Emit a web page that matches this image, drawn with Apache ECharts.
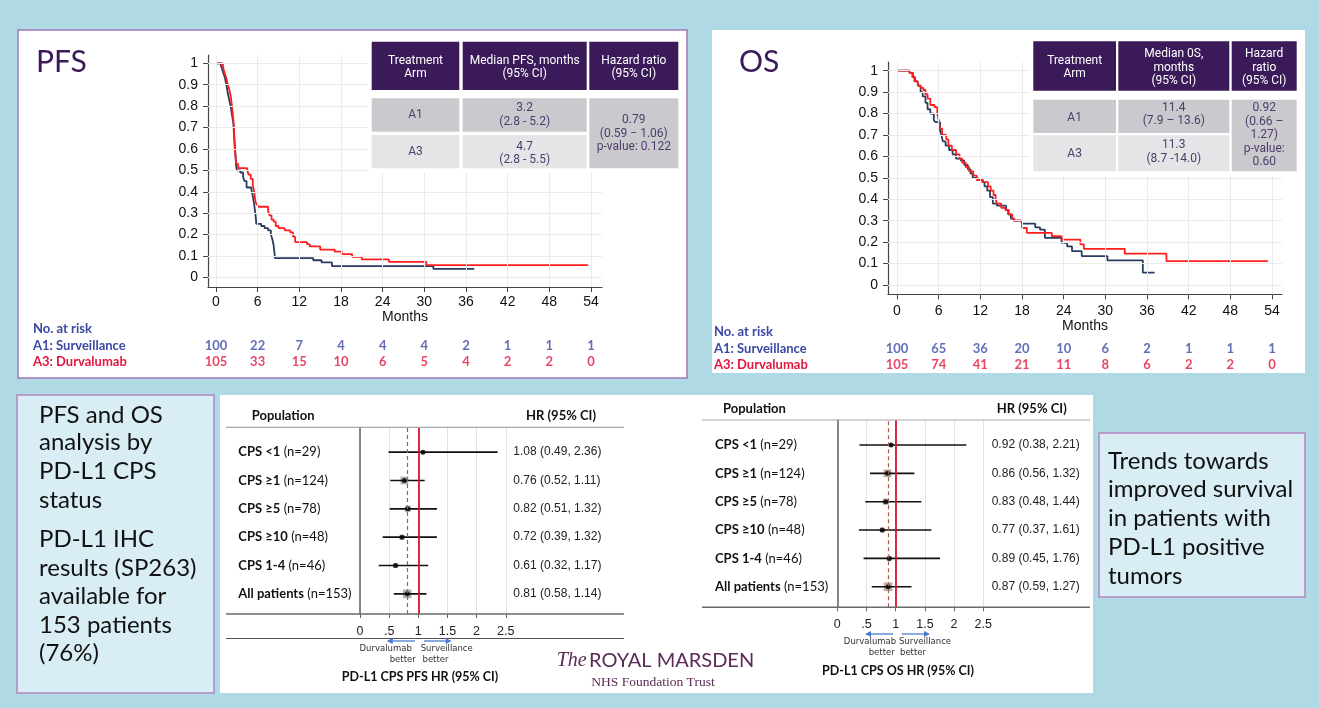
<!DOCTYPE html>
<html>
<head>
<meta charset="utf-8">
<script src="https://cdn.jsdelivr.net/npm/echarts@6/dist/echarts.min.js"></script>
<style>
  html, body { margin: 0; padding: 0; background: #b0d9e6; }
  #chart { width: 1319px; height: 708px; }
</style>
</head>
<body>
<div id="chart"></div>
<script>
// ---------- Kaplan–Meier curves (month, survival probability) ----------
const monthTicks = [0, 6, 12, 18, 24, 30, 36, 42, 48, 54];
const survTicks = [0, 0.1, 0.2, 0.3, 0.4, 0.5, 0.6, 0.7, 0.8, 0.9, 1];

const pfsSurveillance = [[0,1],[0.7,0.99],[0.9,0.97],[1.1,0.95],[1.3,0.93],[1.5,0.9],[1.7,0.86],[1.9,0.83],[2.1,0.8],[2.3,0.76],[2.5,0.72],[2.6,0.66],[2.8,0.58],[2.9,0.52],[3.0,0.5],[3.5,0.49],[3.9,0.47],[4.1,0.45],[4.4,0.42],[5.1,0.41],[5.3,0.38],[5.5,0.34],[5.7,0.29],[5.8,0.25],[6.5,0.24],[7.0,0.23],[7.5,0.22],[7.9,0.2],[8.1,0.18],[8.3,0.15],[8.4,0.12],[8.5,0.09],[14.0,0.08],[15.2,0.07],[16.7,0.053],[31.3,0.04],[37.2,0.04]];
const pfsDurvalumab = [[0,1],[1.0,0.99],[1.1,0.97],[1.3,0.95],[1.5,0.93],[1.7,0.9],[1.9,0.88],[2.1,0.85],[2.3,0.8],[2.4,0.77],[2.6,0.7],[2.7,0.6],[2.9,0.53],[3.2,0.51],[4.5,0.5],[4.7,0.48],[5.0,0.46],[5.3,0.43],[5.5,0.4],[5.7,0.35],[5.9,0.34],[6.1,0.33],[7.5,0.31],[7.7,0.29],[8.0,0.27],[8.3,0.26],[8.6,0.24],[9.0,0.23],[9.9,0.22],[10.7,0.21],[11.1,0.19],[11.4,0.165],[13.1,0.155],[13.5,0.145],[15.0,0.13],[17.1,0.12],[18.1,0.109],[19.6,0.096],[21.0,0.084],[24.9,0.072],[30.3,0.057],[53.6,0.057]];
const osSurveillance = [[0,1],[1.8,0.99],[2.3,0.97],[2.6,0.95],[3.0,0.93],[3.4,0.9],[3.7,0.88],[4.1,0.85],[4.4,0.82],[4.8,0.8],[5.3,0.77],[5.5,0.76],[6.2,0.72],[6.4,0.7],[6.6,0.67],[7.0,0.65],[7.5,0.63],[8.0,0.61],[8.5,0.59],[9.2,0.58],[9.7,0.56],[10.2,0.54],[10.6,0.52],[10.9,0.5],[11.6,0.49],[12.3,0.48],[12.6,0.46],[13.0,0.44],[13.4,0.41],[13.8,0.38],[14.4,0.37],[15.7,0.35],[16.0,0.33],[16.4,0.31],[16.8,0.3],[18.0,0.286],[19.9,0.269],[20.6,0.258],[21.3,0.22],[23.7,0.197],[24.5,0.18],[25.2,0.158],[26.6,0.135],[30.3,0.115],[35.4,0.058],[37.1,0.058]];
const osDurvalumab = [[0,1],[1.8,0.99],[2.2,0.97],[2.5,0.95],[3.0,0.93],[3.4,0.92],[3.8,0.91],[4.1,0.89],[4.4,0.87],[4.8,0.84],[5.4,0.83],[5.8,0.8],[6.0,0.77],[6.2,0.73],[6.5,0.7],[7.1,0.68],[7.4,0.65],[7.9,0.63],[8.5,0.61],[9.0,0.59],[9.4,0.57],[9.9,0.55],[10.4,0.53],[11.0,0.51],[11.5,0.49],[12.4,0.48],[13.1,0.46],[13.5,0.44],[13.9,0.42],[14.2,0.4],[14.4,0.38],[15.0,0.36],[15.6,0.35],[16.1,0.33],[16.6,0.31],[16.9,0.3],[18.0,0.266],[18.7,0.243],[22.3,0.228],[23.7,0.212],[26.4,0.19],[26.9,0.169],[32.8,0.146],[38.8,0.111],[53.4,0.111]];

// ---------- Numbers at risk ----------
const riskRows = ['No. at risk', 'A1: Surveillance', 'A3: Durvalumab'];
const pfsRiskSurveillance = [100, 22, 7, 4, 4, 4, 2, 1, 1, 1];
const pfsRiskDurvalumab = [105, 33, 15, 10, 6, 5, 4, 2, 2, 0];
const osRiskSurveillance = [100, 65, 36, 20, 10, 6, 2, 1, 1, 1];
const osRiskDurvalumab = [105, 74, 41, 21, 11, 8, 6, 2, 2, 0];

// ---------- Summary tables ----------
const pfsTableHead = [['Treatment', 'Arm'], ['Median PFS, months', '(95% CI)'], ['Hazard ratio', '(95% CI)']];
const pfsArms = ['A1', 'A3'];
const pfsMedian = [['3.2', '(2.8 - 5.2)'], ['4.7', '(2.8 - 5.5)']];
const pfsHazard = ['0.79', '(0.59 \u2212 1.06)', 'p-value: 0.122'];
const osTableHead = [['Treatment', 'Arm'], ['Median 0S,', 'months', '(95% CI)'], ['Hazard', 'ratio', '(95% CI)']];
const osArms = ['A1', 'A3'];
const osMedian = [['11.4', '(7.9 \u2013 13.6)'], ['11.3', '(8.7 -14.0)']];
const osHazard = ['0.92', '(0.66 \u2013', '1.27)', 'p-value:', '0.60'];

// ---------- Forest plots by PD-L1 CPS ----------
const cpsGroups = ['CPS <1', 'CPS \u22651', 'CPS \u22655', 'CPS \u226510', 'CPS 1-4', 'All patients'];
const cpsN = [29, 124, 78, 48, 46, 153];
const pfsHR = [1.08, 0.76, 0.82, 0.72, 0.61, 0.81];
const pfsLo = [0.49, 0.52, 0.51, 0.39, 0.32, 0.58];
const pfsHi = [2.36, 1.11, 1.32, 1.32, 1.17, 1.14];
const osHR = [0.92, 0.86, 0.83, 0.77, 0.89, 0.87];
const osLo = [0.38, 0.56, 0.48, 0.37, 0.45, 0.59];
const osHi = [2.21, 1.32, 1.44, 1.61, 1.76, 1.27];

// ---------- Slide text ----------
const leftNotes = ['PFS and OS', 'analysis by', 'PD-L1 CPS', 'status', 'PD-L1 IHC', 'results (SP263)', 'available for', '153 patients', '(76%)'];
const rightNotes = ['Trends towards', 'improved survival', 'in patients with', 'PD-L1 positive', 'tumors'];

// ---------- styling helpers ----------
const F_UI = 'Lato, "Open Sans", sans-serif';
const F_AX = '"Liberation Sans", Arial, sans-serif';
const F_TB = 'Roboto, "Liberation Sans", sans-serif';
const BLUE_LINE = '#2b3c62', RED_LINE = '#ff1e1e';
const RISK_BLUE = '#3a49a3', RISK_RED = '#e2163f';
const PURPLE = '#3b1a59';

function rect(x, y, w, h, fill, stroke, lw, z) {
  return { type: 'rect', z: z == null ? -100 : z, silent: true, shape: { x, y, width: w, height: h },
           style: { fill, stroke: stroke || null, lineWidth: lw || 0 } };
}
function txt(x, y, s, font, fill, align) {
  return { type: 'text', z: 100, silent: true, x, y,
           style: { text: s, font, fill, align: align || 'center', verticalAlign: 'middle' } };
}
function hline(x1, x2, y, color, w) {
  return { type: 'line', z: 50, silent: true, shape: { x1, y1: y, x2, y2: y }, style: { stroke: color, lineWidth: w } };
}
function arrow(x1, x2, y) {
  const d = Math.sign(x2 - x1);
  return [
    { type: 'line', z: 50, silent: true, shape: { x1, y1: y, x2: x2 - d * 4, y2: y }, style: { stroke: '#4a7bd0', lineWidth: 1.3 } },
    { type: 'polygon', z: 50, silent: true, shape: { points: [[x2, y], [x2 - d * 6, y - 3], [x2 - d * 6, y + 3]] }, style: { fill: '#4a7bd0' } }
  ];
}

// ---------- axes builders ----------
function kmXAxis(gi, min, max, labelMargin, nameGap) {
  return {
    gridIndex: gi, type: 'value', min, max,
    axisLine: { show: true, onZero: false, lineStyle: { color: '#444', width: 1.2 } },
    axisTick: { show: true, customValues: monthTicks, length: 5, lineStyle: { color: '#444' } },
    axisLabel: { customValues: monthTicks, margin: labelMargin, fontSize: 14, fontFamily: F_AX, color: '#111' },
    splitLine: { show: false },
    name: 'Months', nameLocation: 'middle', nameGap,
    nameTextStyle: { fontSize: 14, fontFamily: F_AX, color: '#111' }
  };
}
function kmYAxis(gi, min, max) {
  return {
    gridIndex: gi, type: 'value', min, max,
    axisLine: { show: true, onZero: false, lineStyle: { color: '#444', width: 1.2 } },
    axisTick: { show: true, customValues: survTicks, length: 5, lineStyle: { color: '#444' } },
    axisLabel: { customValues: survTicks, margin: 10, fontSize: 14, fontFamily: F_AX, color: '#111',
                 formatter: v => String(+Number(v).toFixed(1)) },
    splitLine: { show: false }
  };
}
function hiddenX(gi, min, max) {
  return { gridIndex: gi, type: 'value', min, max, show: false };
}
function riskYAxis(gi, margin) {
  return {
    gridIndex: gi, type: 'category', data: riskRows, inverse: true,
    axisLine: { show: false }, axisTick: { show: false }, splitLine: { show: false },
    axisLabel: {
      margin, align: 'left',
      formatter: (v, i) => (i === 2 ? '{r|' + v + '}' : '{b|' + v + '}'),
      rich: {
        b: { color: RISK_BLUE, fontWeight: 'bold', fontSize: 13, fontFamily: F_UI },
        r: { color: RISK_RED, fontWeight: 'bold', fontSize: 13, fontFamily: F_UI }
      }
    }
  };
}
function forestFrameX(gi) {
  return {
    gridIndex: gi, type: 'value', min: 0, max: 2.5, interval: 0.5,
    axisLine: { show: false },
    axisTick: { show: true, length: 4, lineStyle: { color: '#666' } },
    axisLabel: { margin: 11, fontSize: 12.5, fontFamily: F_AX, color: '#222',
                 formatter: v => (v === 0 ? '0' : v < 1 ? '.5' : String(v)) },
    splitLine: { show: true, lineStyle: { color: '#e2e2e2', width: 1 } }
  };
}
function forestFrameY(gi) {
  return {
    gridIndex: gi, type: 'value', min: 0, max: 1,
    axisLine: { show: true, onZero: false, lineStyle: { color: '#6a6a6a', width: 1.6 } },
    axisTick: { show: false }, axisLabel: { show: false }, splitLine: { show: false }
  };
}
function forestLabelY(gi, margin) {
  return {
    gridIndex: gi, type: 'category', data: cpsGroups, inverse: true,
    axisLine: { show: false }, axisTick: { show: false }, splitLine: { show: false },
    axisLabel: {
      margin, align: 'left',
      formatter: (v, i) => '{b|' + v + '} {n|(n=' + cpsN[i] + ')}',
      rich: {
        b: { fontWeight: 'bold', fontSize: 13, fontFamily: F_UI, color: '#111' },
        n: { fontSize: 13, fontFamily: F_UI, color: '#111' }
      }
    }
  };
}
function forestValueY(gi, margin, hr, lo, hi) {
  return {
    gridIndex: gi, type: 'category', data: cpsGroups, inverse: true, position: 'right',
    axisLine: { show: false }, axisTick: { show: false }, splitLine: { show: false },
    axisLabel: {
      margin, align: 'left', fontSize: 12, fontFamily: F_AX, color: '#222',
      formatter: (v, i) => hr[i].toFixed(2) + ' (' + lo[i].toFixed(2) + ', ' + hi[i].toFixed(2) + ')'
    }
  };
}

// ---------- series builders ----------
function kmGridLines(xi, yi) {
  return {
    type: 'line', xAxisIndex: xi, yAxisIndex: yi, data: [], z: 1, silent: true,
    markLine: {
      silent: true, symbol: ['none', 'none'], label: { show: false }, animation: false,
      lineStyle: { color: '#ebebeb', width: 1, type: 'solid' },
      emphasis: { disabled: true },
      data: monthTicks.map(v => ({ xAxis: v })).concat(survTicks.map(v => ({ yAxis: v })))
    }
  };
}
function kmCurve(xi, yi, data, color) {
  return {
    type: 'line', xAxisIndex: xi, yAxisIndex: yi, data, step: 'end', showSymbol: false,
    silent: true, z: 3, lineStyle: { color, width: 1.8 }, itemStyle: { color }
  };
}
function riskNumbers(xi, yi, row, counts, color) {
  return {
    type: 'scatter', xAxisIndex: xi, yAxisIndex: yi, symbolSize: 1, silent: true, z: 5,
    itemStyle: { color: 'rgba(0,0,0,0)' },
    data: monthTicks.map((m, i) => [m, row, counts[i]]),
    label: { show: true, position: 'inside', formatter: p => String(p.value[2]),
             color, fontWeight: 'bold', fontSize: 13, fontFamily: F_UI }
  };
}
function forestRefLines(xi, yi, overall) {
  return {
    type: 'scatter', xAxisIndex: xi, yAxisIndex: yi, data: [], silent: true, z: 2,
    markLine: {
      silent: true, symbol: ['none', 'none'], label: { show: false }, animation: false,
      emphasis: { disabled: true },
      data: [
        { xAxis: overall, lineStyle: { color: '#b5534f', width: 1.2, type: [4, 3] } },
        { xAxis: 1, lineStyle: { color: '#e0102e', width: 1.8, type: 'solid' } }
      ]
    }
  };
}
function forestMarks(xi, yi, hr, lo, hi) {
  return [
    { type: 'scatter', xAxisIndex: xi, yAxisIndex: yi, symbol: 'rect', silent: true, z: 2,
      data: hr.map((h, i) => [h, i, cpsN[i]]),
      symbolSize: v => 0.7 * Math.sqrt(v[2]),
      itemStyle: { color: '#9e9e9e', opacity: 0.8 } },
    { type: 'custom', xAxisIndex: xi, yAxisIndex: yi, silent: true, z: 3,
      data: hr.map((h, i) => [lo[i], hi[i], i]),
      encode: { x: [0, 1], y: 2 },
      renderItem: (params, api) => {
        const a = api.coord([api.value(0), api.value(2)]);
        const b = api.coord([api.value(1), api.value(2)]);
        return { type: 'line', shape: { x1: a[0], y1: a[1], x2: b[0], y2: b[1] },
                 style: { stroke: '#111', lineWidth: 1.6 } };
      } },
    { type: 'scatter', xAxisIndex: xi, yAxisIndex: yi, symbol: 'circle', symbolSize: 5, silent: true, z: 4,
      data: hr.map((h, i) => [h, i]), itemStyle: { color: '#000' } }
  ];
}

// ---------- slide decoration: panels, tables, notes ----------
const g = [];
// panels
g.push(rect(18, 30, 669, 348, '#ffffff', '#a27ab4', 1.5));
g.push(rect(712, 30, 593, 343, '#ffffff'));
g.push(rect(220, 395, 873, 298, '#ffffff'));
g.push(rect(17, 395, 197, 298, '#d9edf5', '#b385c2', 1.5));
g.push(rect(1099, 433, 206, 164, '#d9edf5', '#b385c2', 1.5));

// panel titles
g.push(txt(36, 62, 'PFS', '30px ' + F_UI, PURPLE, 'left'));
g.push(txt(739, 62, 'OS', '30px ' + F_UI, PURPLE, 'left'));

// table cells sit above the plot grid lines
const TZ = 60;

// PFS table
(function () {
  const cols = [[371.7, 87.6], [462.7, 124], [589.3, 89]];
  g.push(rect(368, 38, 314, 134, '#ffffff', null, 0, TZ - 1));
  cols.forEach(c => g.push(rect(c[0], 41.7, c[1], 48.3, PURPLE, null, 0, TZ)));
  g.push(rect(371.7, 98.3, 87.6, 33.4, '#cac9cd', null, 0, TZ));
  g.push(rect(462.7, 98.3, 124, 33.4, '#cac9cd', null, 0, TZ));
  g.push(rect(371.7, 135, 87.6, 33.3, '#e5e4e7', null, 0, TZ));
  g.push(rect(462.7, 135, 124, 33.3, '#e5e4e7', null, 0, TZ));
  g.push(rect(589.3, 98.3, 89, 70, '#cac9cd', null, 0, TZ));
  const hf = '12px ' + F_TB, bf = '12px ' + F_TB, bc = '#4e3d6b';
  pfsTableHead.forEach((lines, ci) => {
    const cx = cols[ci][0] + cols[ci][1] / 2;
    lines.forEach((s, li) => g.push(txt(cx, 60.7 + li * 13.3, s, hf, '#ffffff')));
  });
  const c0 = cols[0][0] + cols[0][1] / 2, c1 = cols[1][0] + cols[1][1] / 2, c2 = cols[2][0] + cols[2][1] / 2;
  [115, 151.7].forEach((y, r) => g.push(txt(c0, y, pfsArms[r], bf, bc)));
  [108.3, 146.7].forEach((y, r) => {
    g.push(txt(c1, y, pfsMedian[r][0], bf, bc));
    g.push(txt(c1, y + 13.4, pfsMedian[r][1], bf, bc));
  });
  pfsHazard.forEach((s, i) => g.push(txt(c2, 120 + i * 13.5, s, bf, bc)));
})();

// OS table
(function () {
  const cols = [[1033.3, 82.7], [1118.3, 111], [1231.7, 65]];
  g.push(rect(1030, 38, 270, 137, '#ffffff', null, 0, TZ - 1));
  cols.forEach(c => g.push(rect(c[0], 41.3, c[1], 49.4, PURPLE, null, 0, TZ)));
  g.push(rect(1033.3, 99.7, 82.7, 33.3, '#cac9cd', null, 0, TZ));
  g.push(rect(1118.3, 99.7, 111, 33.3, '#cac9cd', null, 0, TZ));
  g.push(rect(1033.3, 135.3, 82.7, 36, '#e5e4e7', null, 0, TZ));
  g.push(rect(1118.3, 135.3, 111, 36, '#e5e4e7', null, 0, TZ));
  g.push(rect(1231.7, 99.7, 65, 71.6, '#cac9cd', null, 0, TZ));
  const hf = '12px ' + F_TB, bf = '12px ' + F_TB, bc = '#4e3d6b';
  const c0 = cols[0][0] + cols[0][1] / 2, c1 = cols[1][0] + cols[1][1] / 2, c2 = cols[2][0] + cols[2][1] / 2;
  osTableHead[0].forEach((s, li) => g.push(txt(c0, 61.3 + li * 12.4, s, hf, '#ffffff')));
  osTableHead[1].forEach((s, li) => g.push(txt(c1, 54 + li * 13.6, s, hf, '#ffffff')));
  osTableHead[2].forEach((s, li) => g.push(txt(c2, 54 + li * 13.6, s, hf, '#ffffff')));
  [118, 153.5].forEach((y, r) => g.push(txt(c0, y, osArms[r], bf, bc)));
  [108, 145.3].forEach((y, r) => {
    g.push(txt(c1, y, osMedian[r][0], bf, bc));
    g.push(txt(c1, y + 13.4, osMedian[r][1], bf, bc));
  });
  osHazard.forEach((s, i) => g.push(txt(c2, 108 + i * 13.5, s, bf, bc)));
})();

// forest plot frames and captions
const SMALL = '8.5px "DejaVu Sans", sans-serif';
g.push(txt(251.7, 415.7, 'Population', 'bold 13px ' + F_UI, '#111', 'left'));
g.push(txt(526, 415.7, 'HR (95% CI)', 'bold 13px ' + F_UI, '#111', 'left'));
g.push(hline(226, 624, 427.3, '#a8a8a8', 1.2));
g.push(hline(226, 624, 614, '#6a6a6a', 1.6));
g.push(hline(226, 624, 638.5, '#555', 1));
arrow(415, 386.7, 641).forEach(e => g.push(e));
arrow(424, 451.7, 641).forEach(e => g.push(e));
g.push(txt(385.7, 648.5, 'Durvalumab', SMALL, '#333'));
g.push(txt(402.7, 660, 'better', SMALL, '#333'));
g.push(txt(446.7, 648.5, 'Surveillance', SMALL, '#333'));
g.push(txt(435.5, 660, 'better', SMALL, '#333'));
g.push(txt(420, 676.5, 'PD-L1 CPS PFS HR (95% CI)', 'bold 12.5px ' + F_UI, '#111'));

g.push(txt(723, 409, 'Population', 'bold 13px ' + F_UI, '#111', 'left'));
g.push(txt(996.7, 409, 'HR (95% CI)', 'bold 13px ' + F_UI, '#111', 'left'));
g.push(hline(702, 1090, 420, '#a8a8a8', 1.2));
g.push(hline(702, 1090, 607.3, '#6a6a6a', 1.6));
arrow(893, 865, 634).forEach(e => g.push(e));
arrow(901.7, 930, 634).forEach(e => g.push(e));
g.push(txt(870, 642, 'Durvalumab', SMALL, '#333'));
g.push(txt(881.7, 653, 'better', SMALL, '#333'));
g.push(txt(925, 642, 'Surveillance', SMALL, '#333'));
g.push(txt(913, 653, 'better', SMALL, '#333'));
g.push(txt(898, 671, 'PD-L1 CPS OS HR (95% CI)', 'bold 12.5px ' + F_UI, '#111'));

// side notes
const leftNoteY = [415, 442.7, 471.7, 500, 539, 568, 596, 625, 653];
leftNotes.forEach((s, i) => g.push(txt(39, leftNoteY[i], s, '24px ' + F_UI, '#111', 'left')));
rightNotes.forEach((s, i) => g.push(txt(1108, 461 + i * 28.7, s, '24px ' + F_UI, '#111', 'left')));

// hospital logo
g.push(txt(556.7, 661, 'The', 'italic 20px "Liberation Serif", serif', '#5b2a57', 'left'));
g.push(txt(589, 661, 'ROYAL MARSDEN', '20px ' + F_UI, '#5b2a57', 'left'));
g.push(txt(653, 682, 'NHS Foundation Trust', '13.5px "Liberation Serif", serif', '#5b2a57'));

// ---------- chart ----------
const chart = echarts.init(document.getElementById('chart'), null, { renderer: 'canvas' });
chart.setOption({
  backgroundColor: '#b0d9e6',
  animation: false,
  grid: [
    { left: 208, top: 55, width: 394, height: 232, outerBoundsMode: 'none' },      // PFS KM
    { left: 208, top: 321, width: 394, height: 49.5, outerBoundsMode: 'none' },    // PFS at risk
    { left: 888, top: 62, width: 394, height: 232.3, outerBoundsMode: 'none' },    // OS KM
    { left: 888, top: 323.5, width: 394, height: 50, outerBoundsMode: 'none' },    // OS at risk
    { left: 360, top: 427.3, width: 145.75, height: 186.7, outerBoundsMode: 'none' }, // PFS forest frame
    { left: 360, top: 438, width: 145.75, height: 170, outerBoundsMode: 'none' },     // PFS forest rows
    { left: 837.3, top: 420, width: 146, height: 187.3, outerBoundsMode: 'none' },    // OS forest frame
    { left: 837.3, top: 430.8, width: 146, height: 170.1, outerBoundsMode: 'none' }   // OS forest rows
  ],
  xAxis: [
    kmXAxis(0, -1.152, 55.59, 8, 22.7),
    hiddenX(1, -1.152, 55.59),
    kmXAxis(2, -1.296, 55.44, 10, 24.4),
    hiddenX(3, -1.296, 55.44),
    forestFrameX(4),
    hiddenX(5, 0, 2.5),
    forestFrameX(6),
    hiddenX(7, 0, 2.5)
  ],
  yAxis: [
    kmYAxis(0, -0.045, 1.039),
    riskYAxis(1, 175),
    kmYAxis(2, -0.0434, 1.0406),
    riskYAxis(3, 174),
    forestFrameY(4),
    forestLabelY(5, 121.7),
    forestValueY(5, 7.6, pfsHR, pfsLo, pfsHi),
    forestFrameY(6),
    forestLabelY(7, 122.3),
    forestValueY(7, 8.4, osHR, osLo, osHi)
  ],
  series: [
    kmGridLines(0, 0),
    kmCurve(0, 0, pfsSurveillance, BLUE_LINE),
    kmCurve(0, 0, pfsDurvalumab, RED_LINE),
    riskNumbers(1, 1, 'A1: Surveillance', pfsRiskSurveillance, RISK_BLUE),
    riskNumbers(1, 1, 'A3: Durvalumab', pfsRiskDurvalumab, RISK_RED),
    kmGridLines(2, 2),
    kmCurve(2, 2, osSurveillance, BLUE_LINE),
    kmCurve(2, 2, osDurvalumab, RED_LINE),
    riskNumbers(3, 3, 'A1: Surveillance', osRiskSurveillance, RISK_BLUE),
    riskNumbers(3, 3, 'A3: Durvalumab', osRiskDurvalumab, RISK_RED),
    forestRefLines(4, 4, pfsHR[5]),
    ...forestMarks(5, 5, pfsHR, pfsLo, pfsHi),
    forestRefLines(6, 7, osHR[5]),
    ...forestMarks(7, 8, osHR, osLo, osHi)
  ],
  graphic: { elements: g }
});
</script>
</body>
</html>
